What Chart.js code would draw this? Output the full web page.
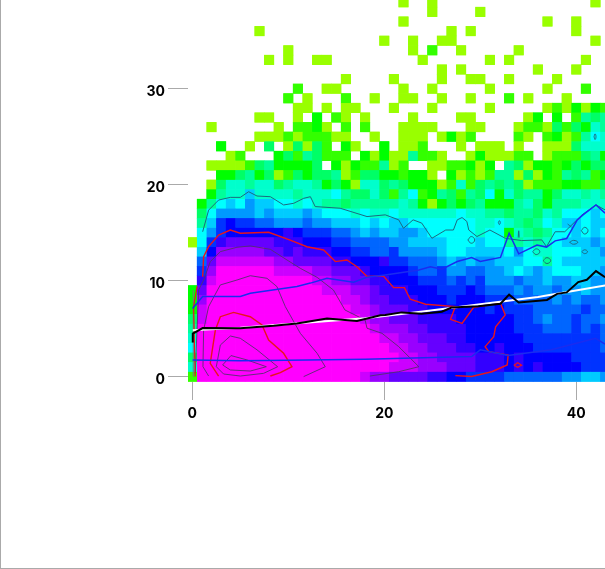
<!DOCTYPE html>
<html>
<head>
<meta charset="utf-8">
<script src="https://cdn.jsdelivr.net/npm/chart.js@4/dist/chart.umd.min.js"></script>
<style>
html, body { margin: 0; padding: 0; background: #fff; }
#wrap { position: relative; width: 605px; height: 569px; overflow: hidden; }
#frame { position: absolute; left: 0; top: 0; width: 604px; height: 568px; border-left: 1px solid #aaa; border-bottom: 1px solid #aaa; pointer-events: none; }
</style>
</head>
<body>
<div id="wrap">
<canvas id="chart" width="605" height="569"></canvas>
<div id="frame"></div>
</div>
<script>
// Colour steps of the density cells, low count to high count
var stepColors = ['#99ff00', '#33ff00', '#00ff00', '#00ff66', '#00ff99', '#00ffcc', '#00ffff', '#00ccff', '#0099ff',
    '#0066ff', '#0033ff', '#0000ff', '#3300ff', '#6600ff', '#9900ff', '#cc00ff', '#ff00ff'];
var stepLetters = 'abcdefghijklmnopq';

var xTickValues = [0, 20, 40];
var yTickValues = [0, 10, 20, 30];
var yEvenMinor = [0, 2, 4, 6, 8, 10];
var yOddMinor = [1, 3, 5, 7, 9];

// Density rows, row 39 first and row 0 last, one letter per column 0..43
var densityRows = [
    '.......... .......... ..a..a.... .......... ..a.',
    '.......... .......... .....a.... a......... ....',
    '.......... .......... ..a....... .......a.. a...',
    '.......a.. .......... .......a.a .......... a...',
    '.......... .......... a..a..aa.. .......... ..a.',
    '.......... a......... ...a.b..a. ....a..... ....',
    '........a. a..aa..... ....a..... .a.a...... .a..',
    '.......... .......... ......a.a. ......a... a...',
    '.......... ......a... .a....a..a a..a....a. ....',
    '.......... .b..aa.... ..a..a.... .a.....a.. .b..',
    '.......... b.a...b..a ..aa..a..a ...b.a...a ....',
    '.......... .aa.a.aa.. .a...a.... .a.....aba cacb',
    '.......aa. .a.c.ba.a. ...a....aa .....ac.c. bede',
    '..a......a .bbca.b.b. ..aaaa...a a...abbadb dcfe',
    '.......aaa babbbaa..a ..aaa.acab ....ba.bca begf',
    '...c..a.d. adadb.ca.. c.aab...a. aaa.a..aaa dfff',
    '....ab...c dbedbbb.ca caaebba..a caaabb.abb bdec',
    '..aaaabdec cccd.cacbb eab..aabbc ac.edaccbc dcdd',
    '...ccdecda bdcddeabdd ccbcca.cab abeeadacbe debc',
    '..adffeffd effecdcaff dedcccabfb dededabbbc cbbd',
    '..ceffhfff fefffgeddf dbegbcedbe dgcfdeecdf fefe',
    '.ceghgihhg gfgfeedeee eefecacdcd ecccefdcee efff',
    '.dgiiiihih hhihgggfgf fgffffffgf feedeedfeg gghg',
    '.ehklkkjji iijiihhhgh ghhggggggg ffgfedegfh hghh',
    '.gikllllll mlkkkjjihi hhiihggggg fggcfedegg hghg',
    'agkmnnnnnm mmlllkkjjj jiihhhhggg hggeefefgh hhih',
    '.hlooooonn mnmmmllkkj jkiiiihggh hhhgigffgg ghhi',
    '.jnppppppo onnnnmmlll mkkjjjihih iihhhggegh hhhh',
    '.koqqqqqqp pppoonnnml lllkjjkiij jiihghihgg ghhi',
    '.mpqqqqqqq qqqppoonnm mlllkkkjkj kiiijiihii hhii',
    'cnqqqqqqqq qqqqpppoon mmmlllkkkl kjjjijiiji ihii',
    'coqqqqqqqq qqqqqqppon nmmmlllkll lkkkjjjjij ijji',
    'cpqqqqqqqq qqqqqqqppo nnnmmlllll lklkkkjjjj jkjj',
    'dpqqqqqqqq qqqqqqqqpo onnnmmmmll llllkkjijj kjji',
    'eqqqqqqqqq qqqqqqqqqp ooonnmmmml llllkkkjjj kjkj',
    'fqqqqqqqqq qqqqqqqqqq ppoonnnmml lllllkkkkk kkkj',
    'gqqqqqqqqq qqqqqqqqqq qppoonnnmm llmlllkkkk kkkj',
    'dqqqqqqqqq qqqqqqqqqq qqppoonnnn mmmlmlllll kkkk',
    'fqqqqqqqqq qqqqqqqqqq qpppooonnn mmmlmlmlll lkkk',
    'bqqqqqqqqq qqqqqqqqpo onnnnmmllk kkkjjjjjji ihhi'
];

// Running statistics lines, [x, y]
var medianLine = [[0.05,3.55],[0.05,4.5],[1.08,5.07],[5,5.04],[8.47,5.3],[10.9,5.55],[14.03,6.05],[17.15,5.8],[19.6,6.4],[20.1,6.42],[21.8,6.7],[23.9,6.55],[26,6.77],[27,7.2],[29.8,7.35],[32.1,7.6],[33,8.55],[34,7.72],[36.95,8],[38,8.63],[39,8.78],[40.2,9.86],[41.1,10.1],[42.05,11],[43,10.37]];
var fitLine = [[0.05,4.85],[1,4.9],[5,5.1],[10,5.5],[18,6.1],[24,6.8],[30,7.55],[36,8.3],[43,9.5]];
var upperLine = [[0.03,7.1],[1.08,8.35],[5,8.35],[6.04,8.7],[10.9,9.4],[12.3,9.75],[14.03,10.25],[16.8,9.85],[18.2,10.35],[20.1,10.6],[23.6,11.12],[24.8,11.46],[26,11.2],[27.6,12],[29.1,12.42],[30,12],[32.1,12.42],[33,14.95],[34,12.8],[35.9,13.72],[36.9,13.5],[37.8,14.15],[39,14.4],[40.1,16.33],[40.7,16.85],[42.05,17.9],[43,17.03]];
var lowerLine = [[0.03,1.75],[5,1.65],[12,1.75],[18,1.82],[29.1,2.1],[30,2.8],[32.9,2.2],[37.4,2.8],[42,4],[43,3.4]];

// Contours
var tealContour = [[1.08,15.1],[1.7,17.35],[2.74,18.4],[3.96,18.68],[5,18.68],[5.87,19.27],[6.74,18.82],[8.13,18.75],[9.51,17.89],[10.56,18.06],[11.6,18.58],[12.3,18.75],[12.8,17.72],[15.4,17.55],[18.2,16.68],[20.1,16.86],[21.5,16.34],[22,15.46],[23,16.34],[23.9,16],[24.96,14.42],[26.4,15.28],[27.2,15.28],[27.6,16.34],[28.1,16.58],[28.6,16.17],[28.8,15.28],[29.65,14.6],[31,15.28],[32.6,14.42],[34.3,14.18],[36.4,14.25],[36.9,13.55],[37.8,15.1],[38.8,15.1],[40.6,16.86],[42.05,17.9],[43,17.37]];
var tealLoops = [[28.7,14.24],[29.06,14.6],[29.42,14.24],[29.06,13.9],[28.7,14.24],null,
    [35.45,13.02],[35.83,13.32],[36.2,13.02],[35.83,12.72],[35.45,13.02],null,
    [36.55,12.09],[36.94,12.4],[37.33,12.09],[36.94,11.79],[36.55,12.09],null,
    [39.3,14],[39.72,14.2],[40.15,14],[39.72,13.8],[39.3,14],null,
    [40.57,13.02],[40.87,13.22],[41.17,13.02],[40.87,12.82],[40.57,13.02],null,
    [40.52,15.21],[40.87,15.56],[41.22,15.21],[40.87,14.86],[40.52,15.21],null,
    [31.88,16.05],[31.98,16.25],[32.08,16.05],[31.98,15.85],[31.88,16.05],null,
    [39.1,15.9],[39.5,15.6],null,
    [41.85,25],[41.95,25.3],[42.05,25],[41.95,24.7],[41.85,25],null,
    [33.95,14.5],[34,15.2],[34.05,14.5]];
var redOuter = [[1.08,10.42],[1.18,12.5],[1.7,13.55],[2.74,14.76],[3.96,15.28],[5,14.94],[7.95,15.04],[10.2,14.23],[11.94,13.54],[13.68,13.2],[14.9,11.99],[16.1,12.16],[17.15,11.46],[18.2,10.44],[19.9,10.5],[20.97,9.28],[22.1,9.28],[22.7,8.07],[24.3,7.55],[27.4,7.3],[26.9,5.98],[28.1,5.56],[29.3,7.23],[32.1,7.65],[32.6,6.44],[31.6,5.21],[31.4,4.17],[30.5,3.13],[30.9,2.61],[32.9,2.26],[32.8,1.22],[31.2,0.52],[29.1,0.02],[27.4,0.11]];
var redInner = [[2.74,0.07],[1.87,1.4],[2.4,4.86],[2.92,6.25],[4.3,6.7],[6.04,6.25],[7.26,5.38],[7.95,3.82],[9.51,2.44],[10.38,1.04],[9.17,0.42],[8.13,0.07]];
var redEdge = [[0.3,0.02],[0.14,7.3],[0.5,9.4],null,[33.5,1.2],[33.9,1.45],[34.3,1.2],[33.9,0.98],[33.5,1.2]];
var purpleOuter = [[0.31,0.35],[0.66,9.03],[1.18,10.07],[1.87,11.98],[2.92,13.03],[4.65,13.48],[6.04,13.62],[8.13,13.27],[9.86,12.16],[11.25,11.29],[13,10.35],[14.7,9.03],[15.9,6.95],[18,5.9],[18.2,5.05],[19.76,4.52],[21.5,3.13],[23.6,1.04],[21.5,0.52],[18.5,0.07]];
var purpleMiddle = [[1.7,0.07],[1.11,1.04],[1.18,4.86],[1.7,7.3],[2.92,9.56],[4.65,10.07],[6.04,10.52],[7.78,10.25],[8.82,9.38],[9.69,7.3],[11.25,4.52],[13,2.44],[13.85,1.04],[11.6,0.01]];
var purpleInner = [[2.5,1.04],[2.92,3.3],[3.96,4.24],[5,4],[6.74,2.8],[8.89,1.04],[7.43,0.35],[5,0.07],[3.26,0.28],[2.5,1.04]];
var purpleCore = [[3.16,1.22],[4.03,2.2],[5.69,1.75],[7.71,1.04],[6.04,0.59],[3.96,0.7],[3.16,1.22]];
var axisEdge = [[0.1,0],[0.1,9]];

var cellPoints = [];
densityRows.forEach(function (row, r) {
    var letters = row.replace(/ /g, '');
    for (var c = 0; c < letters.length; c++) {
        var step = stepLetters.indexOf(letters[c]);
        if (step >= 0) cellPoints.push({ x: c, y: densityRows.length - 1 - r, step: step });
    }
});

function toPoints(list) {
    return list.map(function (p) {
        return p ? { x: p[0], y: p[1] } : { x: null, y: null };
    });
}

function lineSet(list, color, width, order, tension) {
    return {
        data: toPoints(list),
        showLine: true,
        borderColor: color,
        borderWidth: width,
        pointRadius: 0,
        tension: tension || 0,
        spanGaps: false,
        order: order
    };
}

// Cells are drawn twice: the slightly larger layer underneath hides the antialiased seams
function cellSet(radius, order) {
    return {
        data: cellPoints,
        pointStyle: 'rect',
        pointRadius: radius,
        pointBorderWidth: 0,
        pointBackgroundColor: function (ctx) {
            var p = ctx.raw;
            return p ? stepColors[p.step] : '#fff';
        },
        order: order
    };
}

// Tick labels must not push the plot area in from the canvas edges
function dropPadding(axis) {
    axis.paddingTop = 0;
    axis.paddingBottom = 0;
    axis.paddingLeft = 0;
    axis.paddingRight = 0;
}

// y scale shared by the tick axes
var yMin = -0.552, yMax = 39.24;

function tickAxis(values, length, color) {
    return {
        type: 'linear', position: 'left', min: yMin, max: yMax,
        border: { display: false },
        grid: { drawOnChartArea: false, tickLength: length, tickColor: color, tickWidth: 1 },
        ticks: { display: false },
        afterBuildTicks: function (axis) {
            axis.ticks = values.map(function (v) { return { value: v }; });
        },
        afterFit: function (axis) { axis.width = 0; dropPadding(axis); }
    };
}

new Chart(document.getElementById('chart').getContext('2d'), {
    type: 'scatter',
    data: {
        datasets: [
            lineSet(medianLine, '#000000', 2, 1),
            lineSet(fitLine, '#ffffff', 2, 2),
            lineSet(upperLine, '#1a2cf0', 1.5, 3),
            lineSet(lowerLine, '#1a2cf0', 1.5, 3),
            lineSet(redInner, '#e8141e', 1.4, 4),
            lineSet(redOuter, '#e8141e', 1.4, 4),
            lineSet(redEdge, '#e8141e', 1.2, 4),
            lineSet(tealContour, '#1c6a80', 1, 5),
            lineSet(tealLoops, '#1c6a80', 1, 5, 0.5),
            lineSet(purpleOuter, '#55306e', 0.9, 5),
            lineSet(purpleMiddle, '#55306e', 0.9, 5),
            lineSet(purpleInner, '#55306e', 0.9, 5),
            lineSet(purpleCore, '#55306e', 0.9, 5),
            lineSet(axisEdge, '#777777', 1, 6),
            cellSet(6.79, 10),
            cellSet(7.15, 11)
        ]
    },
    options: {
        responsive: false,
        animation: false,
        events: [],
        layout: { padding: 0, autoPadding: false },
        plugins: { legend: { display: false }, tooltip: { enabled: false }, title: { display: false } },
        scales: {
            x: {
                type: 'linear', min: -0.448, max: 42.99,
                border: { display: false },
                grid: { drawOnChartArea: false, tickLength: 18, tickColor: '#aaaaaa' },
                ticks: {
                    padding: 5, color: '#000', maxRotation: 0, autoSkip: false,
                    font: { family: 'Inter', size: 14, weight: '700' }
                },
                afterBuildTicks: function (axis) {
                    axis.ticks = xTickValues.map(function (v) { return { value: v }; });
                },
                afterFit: function (axis) { axis.height = 187; dropPadding(axis); }
            },
            y: {
                type: 'linear', position: 'left', min: yMin, max: yMax,
                border: { display: false },
                grid: { drawOnChartArea: false, tickLength: 20, tickColor: '#aaaaaa' },
                ticks: {
                    padding: 3, labelOffset: 3, color: '#000', autoSkip: false,
                    font: { family: 'Inter', size: 14, weight: '700' }
                },
                afterBuildTicks: function (axis) {
                    axis.ticks = yTickValues.map(function (v) { return { value: v }; });
                },
                afterFit: function (axis) { axis.width = 188; dropPadding(axis); }
            },
            yEven: tickAxis(yEvenMinor, 10, '#777777'),
            yOdd: tickAxis(yOddMinor, 7, '#aaaaaa')
        }
    }
});
</script>
</body>
</html>
